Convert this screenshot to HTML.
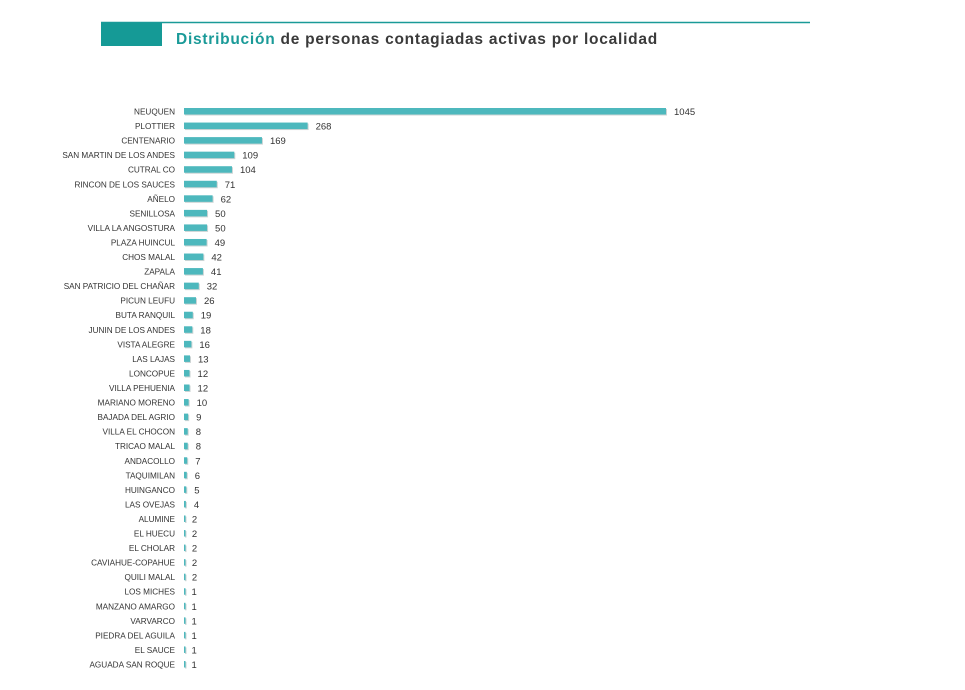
<!DOCTYPE html>
<html><head><meta charset="utf-8"><style>
body{margin:0;background:#fff;width:965px;height:685px;overflow:hidden;font-family:"Liberation Sans",sans-serif}
</style></head><body>
<svg width="965" height="685">
<line x1="101" y1="22.5" x2="810" y2="22.5" stroke="#1a9a98" stroke-width="1.5"/>
<rect x="101" y="23" width="61" height="23" fill="#159a96"/>
<text x="176" y="44" font-size="15.5" font-weight="bold" fill="#3a3a3a" letter-spacing="0.75"><tspan fill="#1a9a98">Distribución</tspan> de personas contagiadas activas por localidad</text>
<g id="bars"></g>
</svg>
<script>
const categories=["NEUQUEN","PLOTTIER","CENTENARIO","SAN MARTIN DE LOS ANDES","CUTRAL CO","RINCON DE LOS SAUCES","AÑELO","SENILLOSA","VILLA LA ANGOSTURA","PLAZA HUINCUL","CHOS MALAL","ZAPALA","SAN PATRICIO DEL CHAÑAR","PICUN LEUFU","BUTA RANQUIL","JUNIN DE LOS ANDES","VISTA ALEGRE","LAS LAJAS","LONCOPUE","VILLA PEHUENIA","MARIANO MORENO","BAJADA DEL AGRIO","VILLA EL CHOCON","TRICAO MALAL","ANDACOLLO","TAQUIMILAN","HUINGANCO","LAS OVEJAS","ALUMINE","EL HUECU","EL CHOLAR","CAVIAHUE-COPAHUE","QUILI MALAL","LOS MICHES","MANZANO AMARGO","VARVARCO","PIEDRA DEL AGUILA","EL SAUCE","AGUADA SAN ROQUE"];
const values=[1045,268,169,109,104,71,62,50,50,49,42,41,32,26,19,18,16,13,12,12,10,9,8,8,7,6,5,4,2,2,2,2,2,1,1,1,1,1,1];
const x0=184,scale=482/1045,y0=111,step=(664-111)/38;
const xs=v=>x0+v*scale, ys=i=>y0+i*step;
const g=document.getElementById('bars'),NS='http://www.w3.org/2000/svg';
categories.forEach((c,i)=>{
 const y=ys(i),w=Math.max(1.5,values[i]*scale);
 const sh=document.createElementNS(NS,'rect');
 sh.setAttribute('x',x0+1);sh.setAttribute('y',y-2);sh.setAttribute('width',w);sh.setAttribute('height',6.5);sh.setAttribute('fill','#9aa');sh.setAttribute('opacity','0.5');
 
 
 g.appendChild(sh);
 const r=document.createElementNS(NS,'rect');
 r.setAttribute('x',x0);r.setAttribute('y',y-3);r.setAttribute('width',w);r.setAttribute('height',6.5);r.setAttribute('fill','#4db8bd');
 
 
 g.appendChild(r);
 const l=document.createElementNS(NS,'text');
 l.setAttribute('x',175);l.setAttribute('y',y+3.5);l.setAttribute('text-anchor','end');l.setAttribute('font-size','8.2');l.setAttribute('fill','#333');
 l.textContent=c;
 
 
 g.appendChild(l);
 const t=document.createElementNS(NS,'text');
 t.setAttribute('x',xs(values[i])+(values[i]<3?7:8));t.setAttribute('y',y+4);t.setAttribute('font-size','9.5');t.setAttribute('fill','#333');
 t.textContent=values[i];
 
 
 g.appendChild(t);
});
</script>
</body></html>
